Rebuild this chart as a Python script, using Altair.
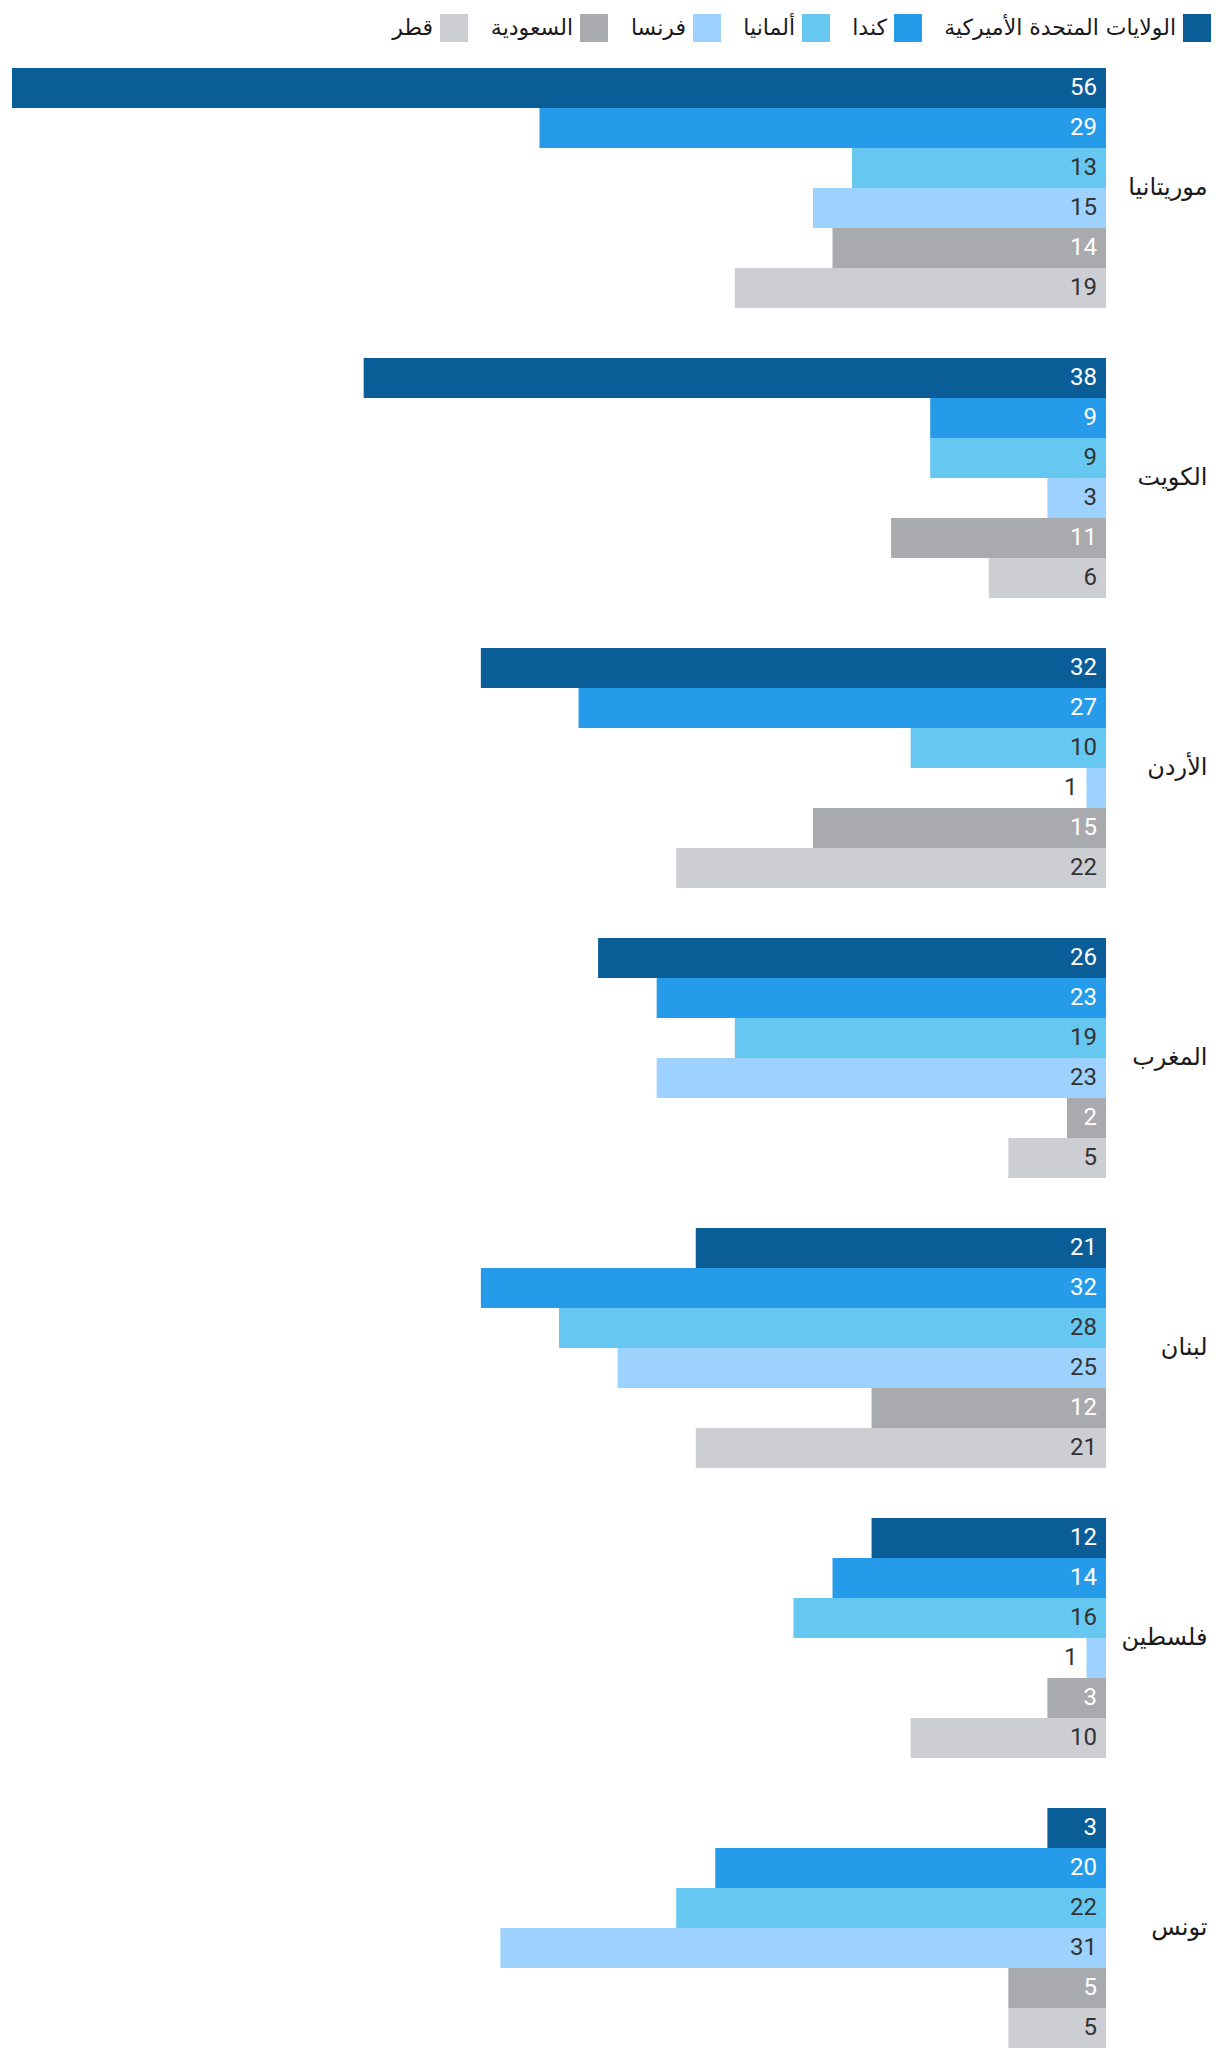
import altair as alt
import pandas as pd

countries = ["موريتانيا", "الكويت", "الأردن", "المغرب", "لبنان", "فلسطين", "تونس"]
series = ["الولايات المتحدة الأميركية", "كندا", "ألمانيا", "فرنسا", "السعودية", "قطر"]
colors = ["#0b5d98", "#259bea", "#66c8f0", "#9dd2fe", "#a9aaae", "#cdced3"]

us = [56, 38, 32, 26, 21, 12, 3]
ca = [29, 9, 27, 23, 32, 14, 20]
de = [13, 9, 10, 19, 28, 16, 22]
fr = [15, 3, 1, 23, 25, 1, 31]
sa = [14, 11, 15, 2, 12, 3, 5]
qa = [19, 6, 22, 5, 21, 10, 5]

rows = []
for i, c in enumerate(countries):
    for s, vals in zip(series, [us, ca, de, fr, sa, qa]):
        rows.append({"country": c, "series": s, "value": vals[i]})
df = pd.DataFrame(rows)

light_text = [series[0], series[1], series[4]]

xscale = alt.Scale(domain=[0, 56], reverse=True, nice=False, zero=True)

base = alt.Chart(df).encode(
    y=alt.Y(
        "country:N",
        sort=countries,
        scale=alt.Scale(paddingInner=0.1724, paddingOuter=0),
        axis=alt.Axis(
            orient="right", title=None, domain=False, ticks=False,
            labelPadding=101, labelAlign="right", labelFontSize=24,
            labelFont="DejaVu Sans", labelColor="#1a1a1a", labelLimit=0,
        ),
    ),
    yOffset=alt.YOffset("series:N", sort=series, scale=alt.Scale(paddingInner=0, paddingOuter=0)),
)

bars = base.mark_bar().encode(
    x=alt.X("value:Q", scale=xscale, axis=None),
    color=alt.Color(
        "series:N",
        sort=series[::-1],
        scale=alt.Scale(domain=series[::-1], range=colors[::-1]),
        legend=alt.Legend(
            orient="none", legendX=428, legendY=-54, direction="horizontal",
            title=None, symbolType="square", symbolSize=784, symbolStrokeWidth=0,
            symbolOpacity=1, labelAlign="right", labelOffset={"expr": "-35"},
            labelFont="DejaVu Sans", labelFontSize=22, labelColor="#1a1a1a",
            columnPadding=22, labelLimit=0,
        ),
    ),
)

inside = base.transform_filter("datum.value >= 2").mark_text(
    align="right", baseline="middle", dx=-9, fontSize=24, font="Roboto"
).encode(
    x=alt.datum(0),
    text="value:Q",
    color=alt.condition(
        alt.FieldOneOfPredicate(field="series", oneOf=light_text),
        alt.value("#ffffff"), alt.value("#333333"),
    ),
)

outside = base.transform_filter("datum.value < 2").mark_text(
    align="right", baseline="middle", dx=-9, fontSize=24, font="Roboto", color="#333333"
).encode(
    x=alt.X("value:Q"),
    text="value:Q",
)

chart = alt.layer(bars, inside, outside).properties(
    width=1094, height=1980,
    padding={"left": 4, "top": 60, "right": 106, "bottom": 4},
    autosize="none",
).configure_view(stroke=None)

chart.save("out.html", embed_options={"renderer": "svg", "actions": False})
